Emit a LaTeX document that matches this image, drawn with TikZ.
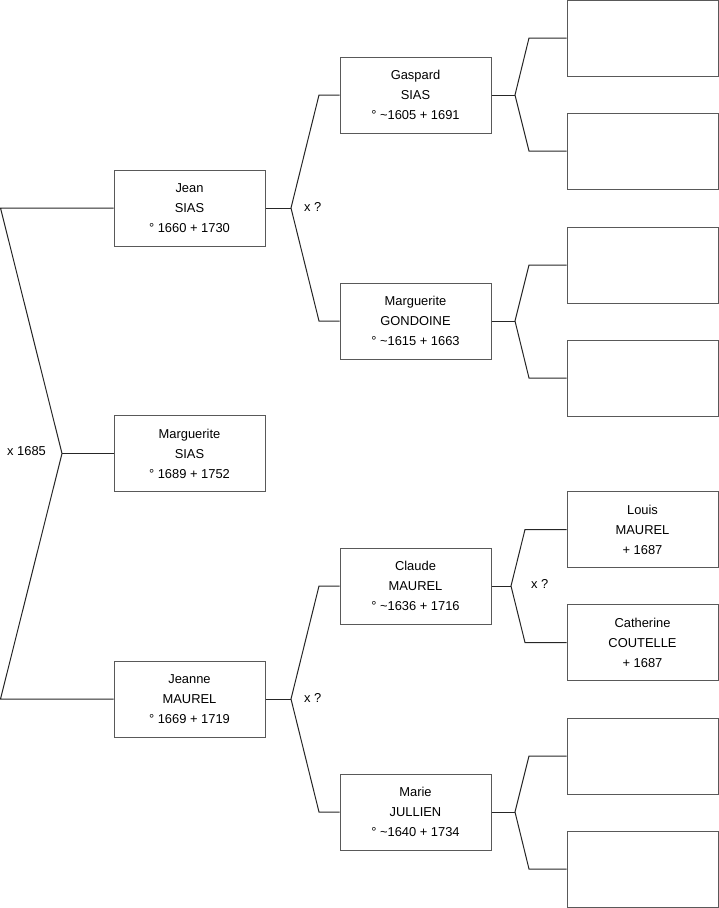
\documentclass[tikz,border=0pt]{standalone}
\usepackage{fontspec}
\setmainfont{Liberation Sans}
\begin{document}
\begin{tikzpicture}[x=1pt,y=-1pt,
  person/.style={draw=black!65, line width=1pt, fill=white, minimum width=151pt, minimum height=76pt, inner sep=0pt, align=center, font=\fontsize{12.9}{20}\selectfont},
  link/.style={draw=black!85, line width=1pt},
  lbl/.style={font=\fontsize{12.9}{14}\selectfont, inner sep=0pt, anchor=west}]
\useasboundingbox (0,0) rectangle (719,908);
% left column
\node[person] (jean) at (189.5,208) {Jean\\SIAS\\° 1660 + 1730};
\node[person] (marg) at (189.5,453.5) {Marguerite\\SIAS\\° 1689 + 1752};
\node[person] (jeanne) at (189.5,699) {Jeanne\\MAUREL\\° 1669 + 1719};
% middle column
\node[person] (gaspard) at (415.5,95) {Gaspard\\SIAS\\° \textasciitilde1605 + 1691};
\node[person] (gondoine) at (415.5,321) {Marguerite\\GONDOINE\\° \textasciitilde1615 + 1663};
\node[person] (claude) at (415.5,586) {Claude\\MAUREL\\° \textasciitilde1636 + 1716};
\node[person] (marie) at (415.5,812) {Marie\\JULLIEN\\° \textasciitilde1640 + 1734};
% right column
\node[person] (r1) at (642.5,38) {};
\node[person] (r2) at (642.5,151) {};
\node[person] (r3) at (642.5,265) {};
\node[person] (r4) at (642.5,378) {};
\node[person] (louis) at (642.5,529.5) {Louis\\MAUREL\\+ 1687};
\node[person] (catherine) at (642.5,642.5) {Catherine\\COUTELLE\\+ 1687};
\node[person] (r7) at (642.5,756) {};
\node[person] (r8) at (642.5,869) {};
% coordinates
\coordinate (L1) at (0.5,208);
\coordinate (L2) at (62,453.5);
\coordinate (L3) at (0.5,699);
\coordinate (fJ) at (291,208);
\coordinate (fJa) at (319,95);
\coordinate (fJb) at (319,321);
\coordinate (fM) at (291,699);
\coordinate (fMa) at (319,586);
\coordinate (fMb) at (319,812);
\coordinate (fG) at (515,95);
\coordinate (fGa) at (529,38);
\coordinate (fGb) at (529,151);
\coordinate (fO) at (515,321);
\coordinate (fOa) at (529,265);
\coordinate (fOb) at (529,378);
\coordinate (fC) at (511,586);
\coordinate (fCa) at (525,529.5);
\coordinate (fCb) at (525,642.5);
\coordinate (fR) at (515,812);
\coordinate (fRa) at (529,756);
\coordinate (fRb) at (529,869);
% connectors
\draw[link] (jean.west) -- (L1) -- (L2) -- (L3) -- (jeanne.west);
\draw[link] (L2) -- (marg.west);
\draw[link] (jean.east) -- (fJ);
\draw[link] (gaspard.west) -- (fJa) -- (fJ) -- (fJb) -- (gondoine.west);
\draw[link] (jeanne.east) -- (fM);
\draw[link] (claude.west) -- (fMa) -- (fM) -- (fMb) -- (marie.west);
\draw[link] (gaspard.east) -- (fG);
\draw[link] (r1.west) -- (fGa) -- (fG) -- (fGb) -- (r2.west);
\draw[link] (gondoine.east) -- (fO);
\draw[link] (r3.west) -- (fOa) -- (fO) -- (fOb) -- (r4.west);
\draw[link] (claude.east) -- (fC);
\draw[link] (louis.west) -- (fCa) -- (fC) -- (fCb) -- (catherine.west);
\draw[link] (marie.east) -- (fR);
\draw[link] (r7.west) -- (fRa) -- (fR) -- (fRb) -- (r8.west);
% labels
\node[lbl] (m1) at (7,451.5) {x 1685};
\node[lbl] (m2) at (304,207) {x ?};
\node[lbl] (m3) at (304,697.5) {x ?};
\node[lbl] (m4) at (531,583.5) {x ?};
\end{tikzpicture}
\end{document}
